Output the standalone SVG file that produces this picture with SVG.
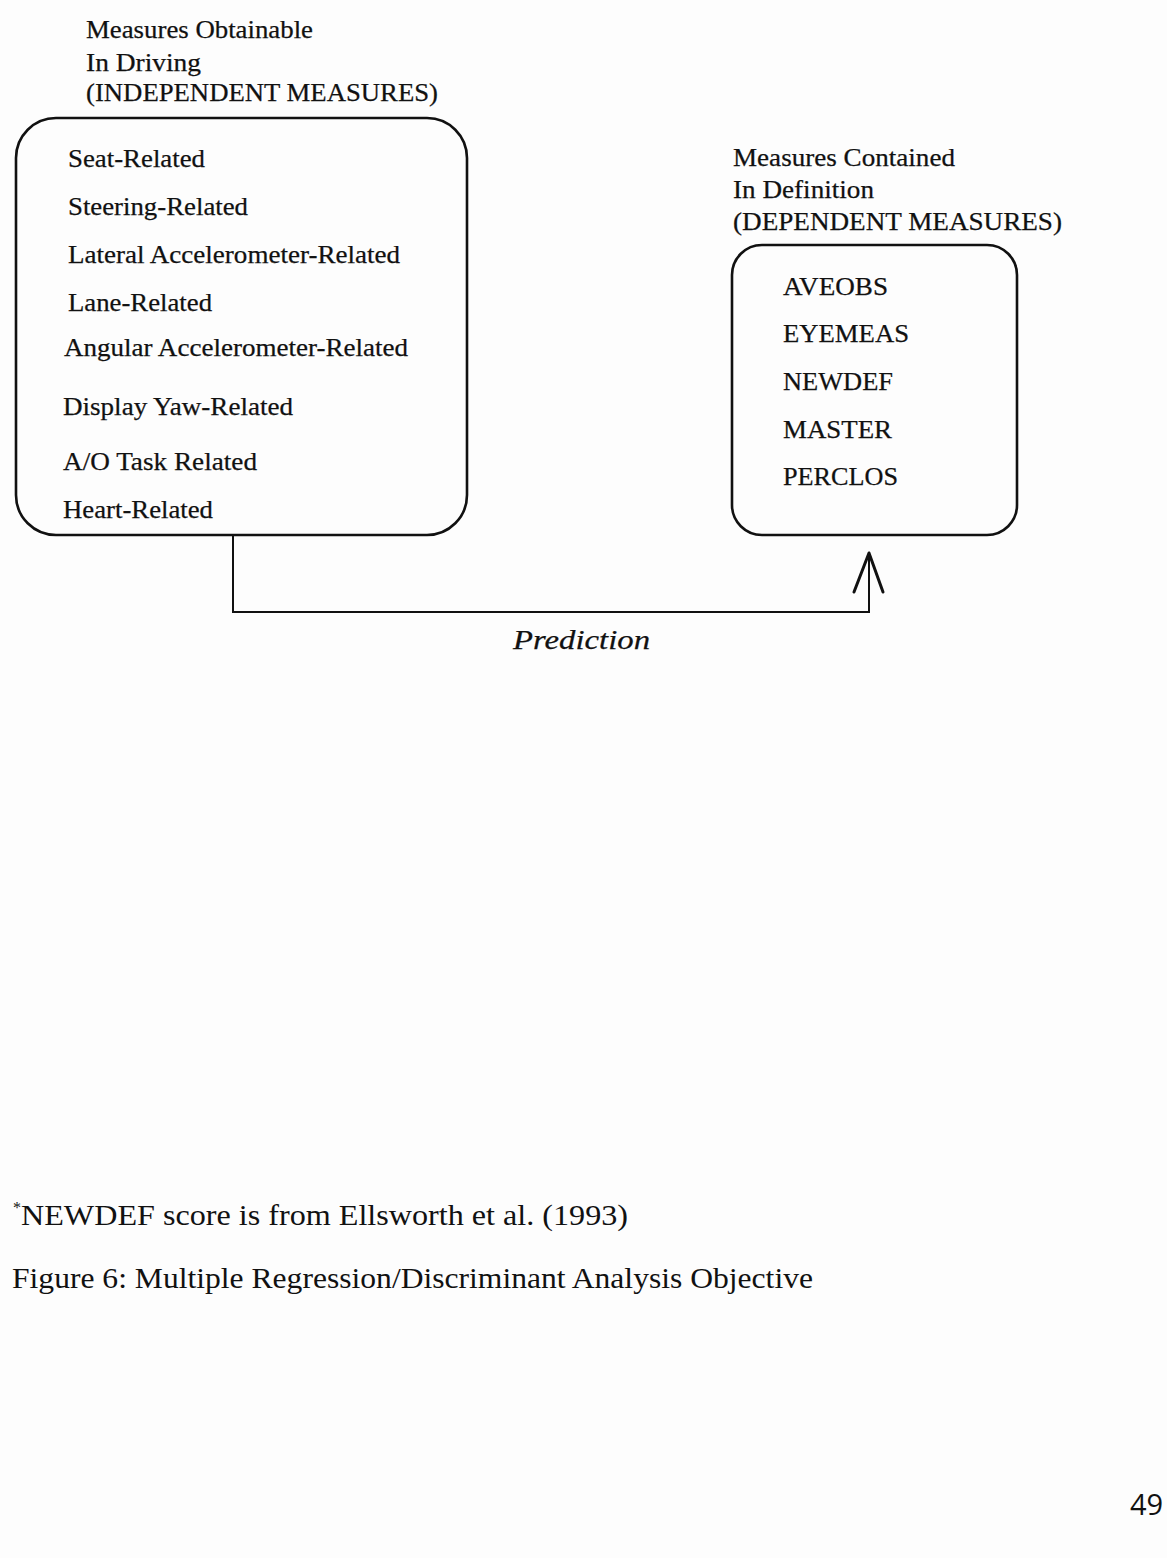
<svg xmlns="http://www.w3.org/2000/svg" width="1167" height="1558" viewBox="0 0 1167 1558">
<style>
  .t { font-family: "Liberation Serif", "Times New Roman", serif; font-size: 26px; fill: #111; stroke: #111; stroke-width: 0.25; }
  .it { font-family: "Liberation Serif", "Times New Roman", serif; font-size: 28px; font-style: italic; fill: #111; stroke: #111; stroke-width: 0.25; }
  .ft { font-family: "Liberation Serif", "Times New Roman", serif; font-size: 29px; fill: #111; }
  .pg { font-family: "Open Sans", "Liberation Sans", sans-serif; font-size: 29px; fill: #111; }
  .box { fill: none; stroke: #111; stroke-width: 2.6; }
  .conn { fill: none; stroke: #111; stroke-width: 2; }
  .head { fill: none; stroke: #111; stroke-width: 3; stroke-linecap: round; stroke-linejoin: round; }
</style>
<rect width="1167" height="1558" fill="#fdfdfd"/>

<g id="independent-node">
  <text class="t" x="86" y="38" textLength="227" lengthAdjust="spacingAndGlyphs">Measures Obtainable</text>
  <text class="t" x="86" y="71" textLength="115" lengthAdjust="spacingAndGlyphs">In Driving</text>
  <text class="t" x="86" y="101" textLength="352" lengthAdjust="spacingAndGlyphs">(INDEPENDENT MEASURES)</text>
  <rect class="box" x="16" y="118" width="451" height="417" rx="40" ry="40"/>
  <text class="t" x="68" y="167" textLength="137" lengthAdjust="spacingAndGlyphs">Seat-Related</text>
  <text class="t" x="68" y="215" textLength="180" lengthAdjust="spacingAndGlyphs">Steering-Related</text>
  <text class="t" x="68" y="263" textLength="332" lengthAdjust="spacingAndGlyphs">Lateral Accelerometer-Related</text>
  <text class="t" x="68" y="311" textLength="144" lengthAdjust="spacingAndGlyphs">Lane-Related</text>
  <text class="t" x="64" y="356" textLength="344" lengthAdjust="spacingAndGlyphs">Angular Accelerometer-Related</text>
  <text class="t" x="63" y="415" textLength="230" lengthAdjust="spacingAndGlyphs">Display Yaw-Related</text>
  <text class="t" x="63" y="470" textLength="194" lengthAdjust="spacingAndGlyphs">A/O Task Related</text>
  <text class="t" x="63" y="518" textLength="150" lengthAdjust="spacingAndGlyphs">Heart-Related</text>
</g>

<g id="dependent-node">
  <text class="t" x="733" y="166" textLength="222" lengthAdjust="spacingAndGlyphs">Measures Contained</text>
  <text class="t" x="733" y="198" textLength="141" lengthAdjust="spacingAndGlyphs">In Definition</text>
  <text class="t" x="733" y="230" textLength="329" lengthAdjust="spacingAndGlyphs">(DEPENDENT MEASURES)</text>
  <rect class="box" x="732" y="245" width="285" height="290" rx="30" ry="30"/>
  <text class="t" x="783" y="295" textLength="105" lengthAdjust="spacingAndGlyphs">AVEOBS</text>
  <text class="t" x="783" y="342" textLength="126" lengthAdjust="spacingAndGlyphs">EYEMEAS</text>
  <text class="t" x="783" y="390" textLength="110" lengthAdjust="spacingAndGlyphs">NEWDEF</text>
  <text class="t" x="783" y="438" textLength="109" lengthAdjust="spacingAndGlyphs">MASTER</text>
  <text class="t" x="783" y="485" textLength="115" lengthAdjust="spacingAndGlyphs">PERCLOS</text>
</g>

<g id="connectors">
  <polyline class="conn" points="233,535 233,612 869,612 869,555"/>
  <polyline class="head" points="854,592 869,553 883,592"/>
  <text class="it" x="513" y="649" textLength="137" lengthAdjust="spacingAndGlyphs">Prediction</text>
</g>

<g id="footer">
  <text class="ft" x="13" y="1225"><tspan font-size="16" dy="-12">*</tspan><tspan dy="12" textLength="607" lengthAdjust="spacingAndGlyphs">NEWDEF score is from Ellsworth et al. (1993)</tspan></text>
  <text class="ft" x="12" y="1288" textLength="801" lengthAdjust="spacingAndGlyphs">Figure 6:  Multiple Regression/Discriminant Analysis Objective</text>
  <text class="pg" x="1130" y="1515">49</text>
</g>
</svg>
